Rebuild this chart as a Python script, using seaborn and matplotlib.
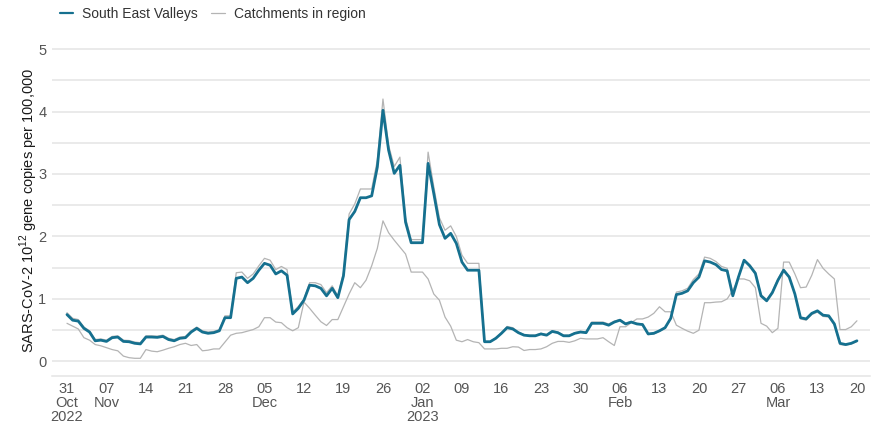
import numpy as np
import pandas as pd
import matplotlib
matplotlib.use('Agg')
import matplotlib.pyplot as plt
from matplotlib.lines import Line2D
from matplotlib.ticker import MultipleLocator
import seaborn as sns

# ── Data (daily, 31 Oct 2022 → 20 Mar 2023, one row per week) ────────────────
START = "2022-10-31"

south_east_valleys = [
    0.75, 0.66, 0.645, 0.53, 0.47, 0.33, 0.34,
    0.32, 0.38, 0.39, 0.32, 0.315, 0.29, 0.28,
    0.39, 0.39, 0.385, 0.40, 0.35, 0.33, 0.37,
    0.38, 0.47, 0.53, 0.47, 0.45, 0.46, 0.49,
    0.70, 0.70, 1.33, 1.35, 1.26, 1.33, 1.46,
    1.57, 1.54, 1.40, 1.45, 1.38, 0.76, 0.85,
    0.98, 1.22, 1.21, 1.17, 1.05, 1.17, 1.02,
    1.37, 2.27, 2.40, 2.62, 2.62, 2.65, 3.11,
    4.02, 3.38, 3.01, 3.14, 2.23, 1.90, 1.90,
    1.90, 3.17, 2.69, 2.19, 1.97, 2.05, 1.89,
    1.59, 1.46, 1.46, 1.46, 0.315, 0.315, 0.37,
    0.45, 0.54, 0.52, 0.46, 0.42, 0.41, 0.41,
    0.44, 0.42, 0.48, 0.46, 0.41, 0.41, 0.45,
    0.47, 0.46, 0.61, 0.61, 0.61, 0.58, 0.63,
    0.66, 0.60, 0.63, 0.60, 0.59, 0.44, 0.45,
    0.49, 0.54, 0.69, 1.07, 1.09, 1.13, 1.26,
    1.35, 1.61, 1.59, 1.55, 1.47, 1.45, 1.05,
    1.35, 1.62, 1.53, 1.41, 1.05, 0.97, 1.10,
    1.30, 1.46, 1.35, 1.08, 0.70, 0.68, 0.77,
    0.81, 0.74, 0.73, 0.60, 0.29, 0.27, 0.29,
    0.33,
]

catchment_a = [
    0.78, 0.69, 0.67, 0.55, 0.49, 0.35, 0.36,
    0.34, 0.40, 0.41, 0.34, 0.335, 0.31, 0.30,
    0.41, 0.41, 0.405, 0.42, 0.37, 0.35, 0.39,
    0.40, 0.49, 0.55, 0.49, 0.47, 0.48, 0.51,
    0.73, 0.73, 1.42, 1.43, 1.33, 1.40, 1.53,
    1.65, 1.62, 1.47, 1.52, 1.47, 0.79, 0.88,
    1.00, 1.26, 1.26, 1.23, 1.10, 1.21, 1.05,
    1.42, 2.36, 2.52, 2.76, 2.76, 2.76, 3.22,
    4.20, 3.46, 3.12, 3.27, 2.30, 1.95, 1.95,
    1.95, 3.35, 2.80, 2.30, 2.10, 2.17, 2.00,
    1.70, 1.57, 1.57, 1.57, 0.32, 0.32, 0.38,
    0.46, 0.56, 0.54, 0.47, 0.43, 0.42, 0.42,
    0.45, 0.43, 0.49, 0.47, 0.42, 0.42, 0.46,
    0.48, 0.47, 0.63, 0.63, 0.63, 0.60, 0.645,
    0.67, 0.61, 0.64, 0.61, 0.60, 0.43, 0.44,
    0.48, 0.53, 0.68, 1.11, 1.13, 1.17, 1.31,
    1.40, 1.67, 1.65, 1.60, 1.52, 1.49, 1.07,
    1.36, 1.63, 1.55, 1.43, 1.07, 0.99, 1.12,
    1.32, 1.48, 1.36, 1.07, 0.68, 0.66, 0.75,
    0.79, 0.72, 0.71, 0.58, 0.27, 0.26, 0.28,
    0.32,
]

catchment_b = [
    0.61, 0.565, 0.52, 0.38, 0.34, 0.27, 0.25,
    0.22, 0.19, 0.17, 0.085, 0.06, 0.05, 0.05,
    0.19, 0.165, 0.155, 0.18, 0.21, 0.235, 0.27,
    0.29, 0.255, 0.27, 0.17, 0.18, 0.20, 0.20,
    0.31, 0.42, 0.45, 0.46, 0.485, 0.51, 0.555,
    0.70, 0.70, 0.63, 0.62, 0.54, 0.49, 0.54,
    0.95, 0.85, 0.74, 0.635, 0.575, 0.67, 0.67,
    0.875, 1.08, 1.26, 1.18, 1.30, 1.53, 1.81,
    2.25, 2.06, 1.94, 1.83, 1.72, 1.43, 1.43,
    1.43, 1.32, 1.08, 0.98, 0.71, 0.565, 0.34,
    0.315, 0.35, 0.315, 0.30, 0.20, 0.20, 0.20,
    0.21, 0.21, 0.235, 0.23, 0.175, 0.19, 0.19,
    0.20, 0.235, 0.29, 0.32, 0.32, 0.305, 0.33,
    0.37, 0.36, 0.36, 0.36, 0.38, 0.315, 0.255,
    0.555, 0.555, 0.62, 0.68, 0.68, 0.71, 0.77,
    0.875, 0.795, 0.795, 0.58, 0.53, 0.485, 0.45,
    0.50, 0.94, 0.94, 0.95, 0.955, 1.00, 1.14,
    1.32, 1.32, 1.29, 1.18, 0.61, 0.565, 0.46,
    0.53, 1.59, 1.59, 1.40, 1.18, 1.19, 1.38,
    1.63, 1.49, 1.40, 1.32, 0.51, 0.51, 0.555,
    0.65,
]

tick_labels = ["31\nOct\n2022", "07\nNov", "14", "21", "28", "05\nDec", "12",
               "19", "26", "02\nJan\n2023", "09", "16", "23", "30", "06\nFeb",
               "13", "20", "27", "06\nMar", "13", "20"]

# ── Style ─────────────────────────────────────────────────────────────────────
TEAL = "#15708f"
GREY = "#b4b4b4"
GRID = "#e4e4e4"
TICK_TXT = "#555555"

sns.set_theme(style="white")
plt.rcParams['font.family'] = ['Liberation Sans', 'DejaVu Sans']
plt.rcParams['mathtext.fontset'] = 'custom'
plt.rcParams['mathtext.rm'] = 'Liberation Sans'

dates = pd.date_range(START, periods=len(south_east_valleys), freq="D")
catch = pd.DataFrame({
    "date": np.concatenate([dates, dates]),
    "value": catchment_a + catchment_b,
    "catchment": ["A"] * len(dates) + ["B"] * len(dates),
})
sev = pd.DataFrame({"date": dates, "value": south_east_valleys})

fig = plt.figure(figsize=(8.72, 4.24), dpi=100)
ax = fig.add_axes([0.0596, 0.1137, 0.9384, 0.778])

sns.lineplot(data=catch, x="date", y="value", units="catchment", estimator=None,
             color=GREY, linewidth=0.9, ax=ax)
sns.lineplot(data=sev, x="date", y="value", color=TEAL, linewidth=2.0, ax=ax)

# ── Axes ──────────────────────────────────────────────────────────────────────
ax.set_xlim(dates[0] - pd.Timedelta(days=2.66), dates[-1] + pd.Timedelta(days=2.36))
ax.set_ylim(-0.23, 5.05)
ax.yaxis.set_major_locator(MultipleLocator(1))
ax.yaxis.set_minor_locator(MultipleLocator(0.5))
ax.grid(axis='y', which='both', color=GRID, linewidth=1.1)
ax.set_axisbelow(True)

ticks = pd.date_range(START, dates[-1], freq="7D")
ax.set_xticks(ticks)
ax.set_xticklabels(tick_labels, linespacing=1.0)
ax.tick_params(axis='x', colors=GRID, length=3, width=1, pad=1.5,
               labelcolor=TICK_TXT, labelsize=10.5)
ax.tick_params(axis='y', which='both', length=0, pad=4,
               labelcolor=TICK_TXT, labelsize=10.5)

for side in ['top', 'right', 'left']:
    ax.spines[side].set_visible(False)
ax.spines['bottom'].set_color(GRID)
ax.spines['bottom'].set_linewidth(1.1)

ax.set_xlabel("")
ax.set_ylabel("SARS-CoV-2 10$^{12}$ gene copies per 100,000",
              fontsize=10.5, color="#1a1a1a", labelpad=-1)

handles = [Line2D([], [], color=TEAL, lw=1.6), Line2D([], [], color=GREY, lw=0.9)]
fig.legend(handles, ["South East Valleys", "Catchments in region"],
           loc='center left', bbox_to_anchor=(0.054, 0.967), ncol=2, frameon=False,
           fontsize=10, handlelength=1.0, handletextpad=0.6, columnspacing=1.0,
           labelcolor="#333333")

plt.savefig("out.png", dpi=100)
plt.close()
